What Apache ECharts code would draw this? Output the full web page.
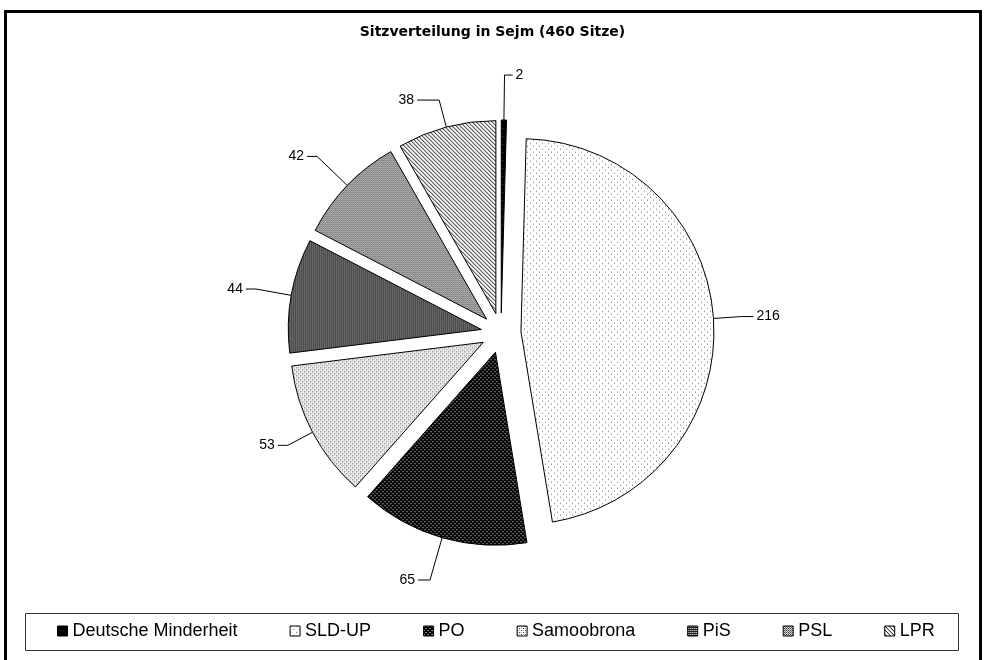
<!DOCTYPE html>
<html>
<head>
<meta charset="utf-8">
<script src="https://cdn.jsdelivr.net/npm/echarts@6/dist/echarts.min.js"></script>
<style>
html,body{margin:0;padding:0;background:#fff;}
#chart{width:985px;height:660px;}
</style>
</head>
<body>
<div id="chart"></div>
<script>
// ---- data ----
const titleText = 'Sitzverteilung in Sejm (460 Sitze)';
const categories = ['Deutsche Minderheit', 'SLD-UP', 'PO', 'Samoobrona', 'PiS', 'PSL', 'LPR'];
const seats = [2, 216, 65, 53, 44, 42, 38];

// ---- style helpers ----
function pattern(w, h, bg, pts) {
  const c = document.createElement('canvas');
  c.width = w; c.height = h;
  const g = c.getContext('2d');
  g.fillStyle = bg; g.fillRect(0, 0, w, h);
  pts.forEach(p => { g.fillStyle = p[2]; g.fillRect(p[0], p[1], 1, 1); });
  return { image: c, repeat: 'repeat' };
}
const fills = [
  pattern(4, 8, '#000', [[2, 4, '#444']]),                                   // Deutsche Minderheit
  pattern(6, 6, '#fff', [[0, 0, '#777'], [3, 3, '#777']]),                    // SLD-UP
  pattern(4, 4, '#000', [[0, 0, '#fff'], [2, 2, '#fff']]),                    // PO
  pattern(4, 4, '#fff', [[0, 0, '#222'], [2, 2, '#222'], [2, 0, '#aaa'], [0, 2, '#aaa']]), // Samoobrona
  pattern(2, 2, '#222', [[0, 0, '#fff']]),                                    // PiS
  pattern(2, 2, '#fff', [[1, 0, '#111'], [0, 1, '#555']]),                    // PSL
  pattern(4, 4, '#fff', [[0, 0, '#000'], [1, 1, '#000'], [2, 2, '#000'], [3, 3, '#000']]) // LPR
];
// label-line lengths (style, per slice)
const lineLen = [45, 28, 44, 28, 36, 42, 28];
const lineLen2 = [8, 12, 12, 10, 10, 10, 22];

const chart = echarts.init(document.getElementById('chart'), null, { renderer: 'canvas' });
const font = '"Liberation Sans", Arial, sans-serif';

chart.setOption({
  backgroundColor: '#fff',
  animation: false,
  title: {
    text: titleText,
    left: 'center',
    top: 20,
    textStyle: { fontFamily: '"DejaVu Sans", Verdana, sans-serif', fontSize: 14, fontWeight: 'bold', color: '#000' }
  },
  legend: {
    left: 52,
    top: 617,
    orient: 'horizontal',
    itemWidth: 10,
    itemHeight: 10,
    itemGap: 52,
    icon: 'rect',
    selectedMode: false,
    itemStyle: { borderColor: '#000', borderWidth: 1 },
    textStyle: { fontFamily: font, fontSize: 18, color: '#000' },
    data: categories
  },
  graphic: [
    { type: 'rect', shape: { x: 5.5, y: 11.5, width: 975, height: 700 }, style: { fill: 'none', stroke: '#000', lineWidth: 3 }, silent: true },
    { type: 'rect', shape: { x: 25.5, y: 613.5, width: 933, height: 37 }, style: { fill: 'none', stroke: '#333', lineWidth: 1 }, silent: true }
  ],
  series: [{
    type: 'pie',
    center: [501, 333],
    radius: [0, 193],
    startAngle: 90,
    clockwise: true,
    selectedMode: 'multiple',
    selectedOffset: 20,
    avoidLabelOverlap: false,
    silent: true,
    itemStyle: { borderColor: '#000', borderWidth: 1 },
    label: { show: true, position: 'outside', formatter: '{c}', fontFamily: font, fontSize: 14, color: '#000', distanceToLabelLine: 3 },
    labelLine: { show: true, lineStyle: { color: '#000', width: 1 } },
    emphasis: { disabled: true },
    data: categories.map((name, i) => ({
      name: name,
      value: seats[i],
      selected: true,
      itemStyle: { color: fills[i] },
      labelLine: { length: lineLen[i], length2: lineLen2[i] }
    }))
  }]
});
</script>
</body>
</html>
